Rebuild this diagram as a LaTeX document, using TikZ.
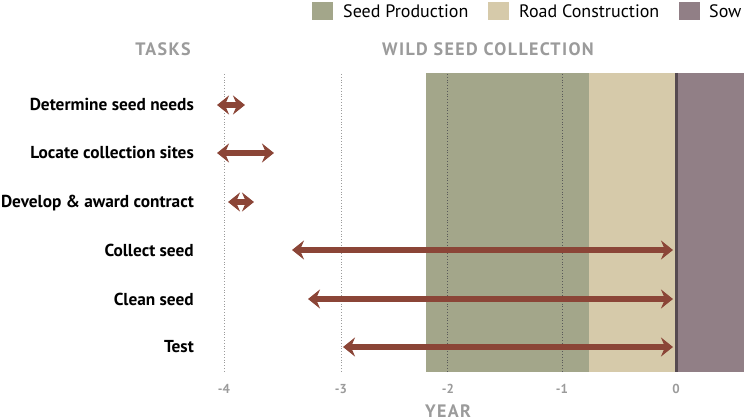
\documentclass[tikz,border=0pt]{standalone}
\usepackage{fontspec}
\setmainfont{PT Sans}
\usetikzlibrary{arrows.meta}
\definecolor{seedgreen}{HTML}{A3A68A}
\definecolor{roadtan}{HTML}{D6CAAA}
\definecolor{sowpurple}{HTML}{917F86}
\definecolor{arrowc}{HTML}{8B4537}
\definecolor{zeroline}{HTML}{564A50}
\definecolor{hdrgray}{HTML}{9B9B9B}
\begin{document}
\begin{tikzpicture}[x=1pt,y=-1pt,
  task/.style={anchor=base east, font=\bfseries\fontsize{17.3}{19}\selectfont, text=black, inner sep=0},
  hdr/.style={anchor=base, font=\bfseries\fontsize{18}{20}\selectfont\addfontfeatures{LetterSpace=7.5}, text=hdrgray, inner sep=0},
  ticklbl/.style={anchor=base, font=\bfseries\fontsize{13}{15}\selectfont, text=hdrgray, inner sep=0},
  leg/.style={anchor=base west, font=\fontsize{18}{20}\selectfont, text=black, inner sep=0},
  legbox/.style={minimum width=21pt, minimum height=18pt, inner sep=0, anchor=north west},
  span/.style={draw=arrowc, line width=6pt, {Stealth[length=12pt,width=19pt,inset=4pt]}-{Stealth[length=12pt,width=19pt,inset=4pt]}},
  gridlight/.style={draw=hdrgray, dotted, line width=0.8pt},
  griddark/.style={draw=black!65, dotted, line width=0.8pt}
]
\useasboundingbox (0,0) rectangle (744,420);
% background regions
\fill[seedgreen] (426,73) rectangle (589,372);
\fill[roadtan] (589,73) rectangle (675,372);
\fill[sowpurple] (675,73) rectangle (744,372);
% grid lines
\coordinate (g4t) at (224,74); \coordinate (g4b) at (224,372);
\coordinate (g3t) at (341,74); \coordinate (g3b) at (341,372);
\coordinate (g2t) at (447,74); \coordinate (g2b) at (447,372);
\coordinate (g1t) at (562,74); \coordinate (g1b) at (562,372);
\coordinate (g0t) at (676,73); \coordinate (g0b) at (676,372);
\draw[gridlight] (g4t) -- (g4b);
\draw[gridlight] (g3t) -- (g3b);
\draw[griddark] (g2t) -- (g2b);
\draw[griddark] (g1t) -- (g1b);
\draw[zeroline, line width=3pt] (g0t) -- (g0b);
% legend
\node[legbox, fill=seedgreen] (lb1) at (312,2) {};
\node[leg] (lt1) at (343,18) {Seed Production};
\node[legbox, fill=roadtan] (lb2) at (488,2) {};
\node[leg] (lt2) at (519,18) {Road Construction};
\node[legbox, fill=sowpurple] (lb3) at (679,2) {};
\node[leg] (lt3) at (709,18) {Sow};
% headers
\node[hdr] (htasks) at (163,56) {TASKS};
\node[hdr] (hwild) at (488,56) {WILD SEED COLLECTION};
% tasks
\node[task] (t1) at (194,110) {Determine seed needs};
\node[task] (t2) at (194,158) {Locate collection sites};
\node[task] (t3) at (194,207) {Develop \& award contract};
\node[task] (t4) at (194,256) {Collect seed};
\node[task] (t5) at (194,305) {Clean seed};
\node[task] (t6) at (194,352) {Test};
% arrows
\coordinate (a1l) at (217,105); \coordinate (a1r) at (245,105);
\coordinate (a2l) at (217,153); \coordinate (a2r) at (274,153);
\coordinate (a3l) at (228,202); \coordinate (a3r) at (254,202);
\coordinate (a4l) at (292,250); \coordinate (a4r) at (673,250);
\coordinate (a5l) at (308,299); \coordinate (a5r) at (673,299);
\coordinate (a6l) at (343,347); \coordinate (a6r) at (673,347);
\draw[span] (a1l) -- (a1r);
\draw[span] (a2l) -- (a2r);
\draw[span] (a3l) -- (a3r);
\draw[span] (a4l) -- (a4r);
\draw[span] (a5l) -- (a5r);
\draw[span] (a6l) -- (a6r);
% ticks
\node[ticklbl] (x4) at (224,393) {-4};
\node[ticklbl] (x3) at (341,393) {-3};
\node[ticklbl] (x2) at (448,393) {-2};
\node[ticklbl] (x1) at (562,393) {-1};
\node[ticklbl] (x0) at (676,393) {0};
\node[hdr] (year) at (448,417.5) {YEAR};
\end{tikzpicture}
\end{document}
